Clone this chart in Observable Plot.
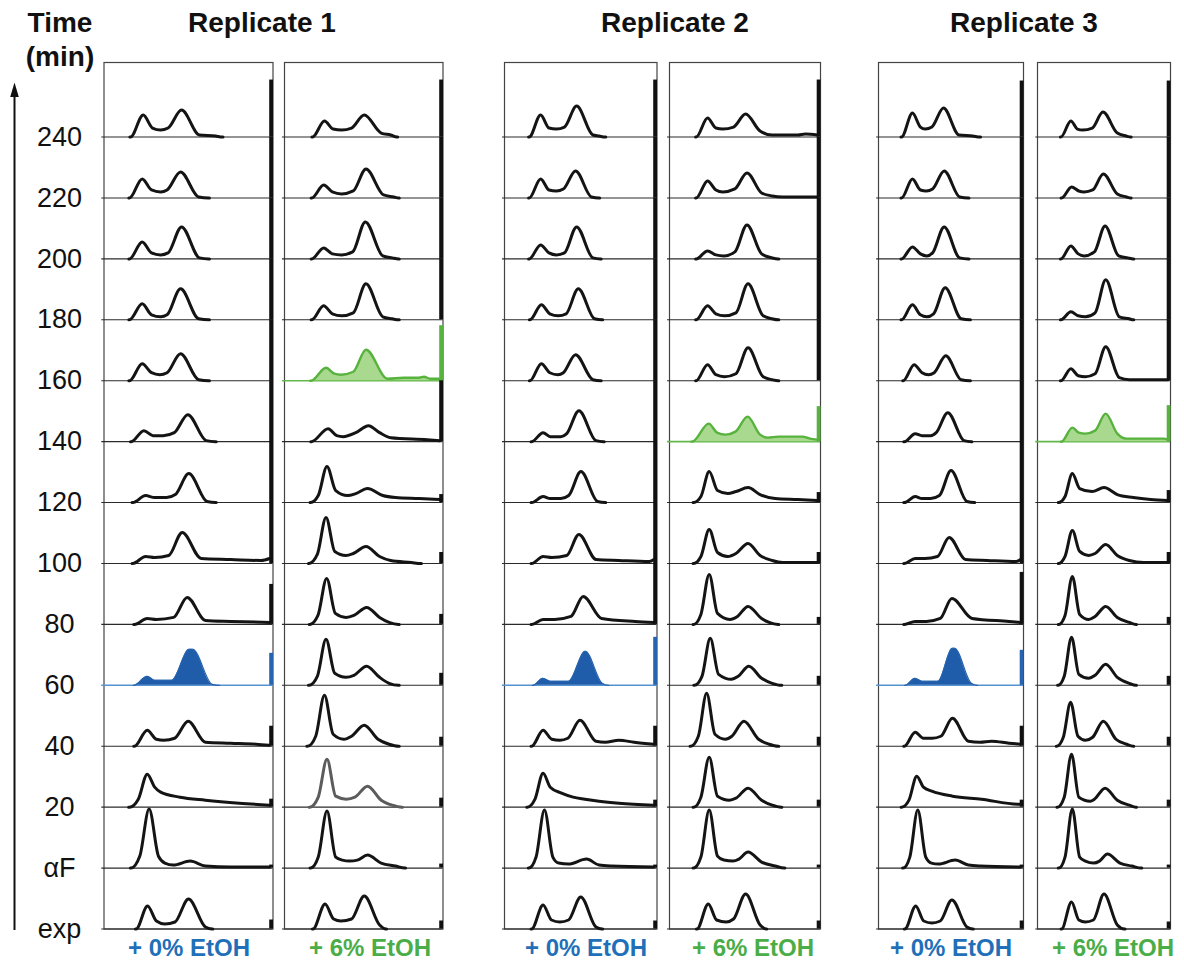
<!DOCTYPE html>
<html><head><meta charset="utf-8">
<script src="https://cdn.jsdelivr.net/npm/d3@7"></script>
<script src="https://cdn.jsdelivr.net/npm/@observablehq/plot@0.6"></script>
<style>
body{margin:0;background:#fff;}
#root{position:relative;width:1184px;height:965px;overflow:hidden;background:#fff;}
#root svg{position:absolute;overflow:visible;}
</style></head><body><div id="root"></div>
<script>
// ---------- DATA ----------
const rows = ["240","220","200","180","160","140","120","100","80","60","40","20","αF","exp"];
const replicates = ["Replicate 1","Replicate 2","Replicate 3"];
const conditions = ["+ 0% EtOH","+ 6% EtOH"];
const axisTitle = ["Time","(min)"];

// DNA-content histograms: [relative position, height], rows top (240) to bottom (exp)
const r1_0 = [
 [[.157,0],[.232,22],[.287,9],[.335,7],[.379,9],[.459,27],[.565,2],[.66,1],[.7,0]],
 [[.151,0],[.226,19],[.281,8],[.335,6],[.373,8],[.453,26],[.56,1],[.62,0]],
 [[.151,0],[.226,17],[.281,6],[.335,4],[.379,6],[.459,32],[.565,1],[.62,0]],
 [[.151,0],[.226,16],[.281,5],[.335,3],[.373,5],[.453,31],[.56,1],[.62,0]],
 [[.151,0],[.226,17],[.281,8],[.33,6],[.373,8],[.453,27],[.56,1],[.62,0]],
 [[.161,0],[.236,11],[.29,6],[.35,6],[.416,9],[.496,27],[.605,1],[.66,0]],
 [[.17,0],[.246,7],[.30,5],[.37,5],[.422,8],[.502,29],[.61,1],[.66,0]],
 [[.17,0],[.246,7],[.30,6],[.383,8],[.463,31],[.575,5],[.75,4],[.93,3],[.98,5]],
 [[.18,0],[.256,6],[.31,5],[.412,7],[.492,27],[.6,4],[.75,3],[.98,2]],
 [[.177,0],[.256,9],[.30,5],[.40,5],[.505,36],[.525,36],[.64,1],[.68,0]],
 [[.18,0],[.256,16],[.31,7],[.354,6],[.418,8],[.498,25],[.6,4],[.75,3],[.9,2],[.98,1]],
 [[.15,0],[.203,8],[.256,33],[.30,20],[.335,15],[.45,10],[.6,7],[.8,4],[.98,2]],
 [[.16,0],[.212,12],[.267,59],[.322,12],[.36,5],[.41,3],[.51,7],[.6,2],[.75,1],[.98,1]],
 [[.19,0],[.258,23],[.31,8],[.36,5],[.42,7],[.5,30],[.6,2],[.64,0]]
];
const r1_6 = [
 [[.177,0],[.252,16],[.307,8],[.36,7],[.423,9],[.503,22],[.61,4],[.67,2],[.71,0]],
 [[.172,0],[.247,13],[.302,6],[.36,4],[.434,7],[.514,29],[.625,3],[.69,1],[.72,0]],
 [[.172,0],[.247,11],[.302,5],[.36,4],[.43,7],[.51,37],[.62,3],[.68,1],[.72,0]],
 [[.172,0],[.247,14],[.302,6],[.36,4],[.434,7],[.514,36],[.62,3],[.68,1],[.72,0]],
 [[.167,0],[.262,13],[.315,7],[.356,6],[.434,9],[.514,31],[.65,2],[.75,3],[.85,3],[.88,4],[.92,2],[.98,2]],
 [[.17,0],[.275,13],[.33,6],[.37,5],[.45,9],[.53,16],[.6,9],[.67,4],[.9,2],[.98,1]],
 [[.165,0],[.213,7],[.268,36],[.323,12],[.398,7],[.45,9],[.524,14],[.62,7],[.7,5],[.85,4],[.98,3]],
 [[.155,0],[.207,9],[.262,46],[.317,12],[.388,8],[.434,10],[.514,17],[.6,7],[.67,3],[.8,1],[.86,0]],
 [[.16,0],[.211,9],[.266,46],[.321,11],[.388,7],[.438,9],[.518,17],[.6,7],[.66,2],[.72,0]],
 [[.155,0],[.207,9],[.262,46],[.317,12],[.388,8],[.438,10],[.518,19],[.6,8],[.66,2],[.72,0]],
 [[.145,0],[.197,10],[.252,51],[.307,12],[.375,7],[.423,10],[.503,21],[.59,7],[.66,2],[.72,0]],
 [[.16,0],[.213,10],[.268,48],[.323,11],[.39,8],[.444,10],[.524,21],[.61,7],[.68,2],[.74,0]],
 [[.165,0],[.213,11],[.268,57],[.323,11],[.365,8],[.41,7],[.46,8],[.524,13],[.61,5],[.7,2],[.76,0]],
 [[.18,0],[.256,25],[.31,10],[.356,8],[.423,10],[.503,33],[.6,4],[.64,0]]
];
const r2_0 = [
 [[.162,0],[.237,22],[.292,9],[.34,8],[.393,10],[.473,31],[.58,2],[.62,1],[.66,0]],
 [[.162,0],[.237,19],[.292,8],[.34,7],[.386,9],[.466,27],[.57,1],[.62,0]],
 [[.162,0],[.237,14],[.292,6],[.34,4],[.393,6],[.473,32],[.58,1],[.63,0]],
 [[.167,0],[.242,15],[.297,6],[.352,4],[.404,6],[.484,31],[.59,1],[.64,0]],
 [[.167,0],[.242,17],[.297,8],[.35,6],[.386,8],[.466,26],[.58,1],[.63,0]],
 [[.178,0],[.253,9],[.3,5],[.37,5],[.408,8],[.488,31],[.6,1],[.65,0]],
 [[.178,0],[.253,6],[.3,4],[.37,4],[.421,7],[.501,31],[.61,1],[.66,0]],
 [[.178,0],[.253,7],[.31,6],[.408,8],[.488,29],[.6,4],[.75,3],[.95,2],[.98,4]],
 [[.178,0],[.253,5],[.33,5],[.436,8],[.516,28],[.637,6],[.857,3],[.98,2]],
 [[.187,0],[.253,7],[.3,4],[.42,4],[.53,34],[.64,2],[.68,0]],
 [[.178,0],[.253,16],[.31,7],[.363,6],[.415,8],[.495,26],[.6,5],[.66,4],[.75,6],[.85,4],[.98,2]],
 [[.15,0],[.2,8],[.253,34],[.30,20],[.374,14],[.45,10],[.527,8],[.62,6],[.75,4],[.98,2]],
 [[.16,0],[.207,11],[.262,58],[.317,11],[.355,5],[.42,4],[.538,9],[.62,3],[.7,2],[.98,1]],
 [[.178,0],[.253,24],[.308,9],[.363,7],[.42,9],[.5,32],[.6,2],[.64,0]]
];
const r2_6 = [
 [[.177,0],[.252,19],[.307,9],[.353,8],[.424,10],[.504,23],[.6,6],[.68,2],[.85,2],[.9,3],[.98,2]],
 [[.177,0],[.252,17],[.307,8],[.353,6],[.433,9],[.513,25],[.61,5],[.68,2],[.75,1],[.98,1]],
 [[.177,0],[.252,8],[.307,4],[.36,3],[.433,7],[.513,34],[.61,5],[.68,1],[.72,0]],
 [[.177,0],[.252,14],[.307,6],[.364,4],[.44,7],[.52,36],[.62,4],[.68,1],[.72,0]],
 [[.177,0],[.252,16],[.307,6],[.364,4],[.44,7],[.52,33],[.62,4],[.68,1],[.72,0]],
 [[.15,0],[.26,18],[.315,9],[.37,7],[.437,10],[.517,25],[.6,7],[.65,4],[.72,5],[.88,5],[.93,3],[.98,2]],
 [[.16,0],[.208,6],[.263,31],[.318,12],[.386,9],[.44,11],[.52,15],[.6,8],[.7,4],[.85,3],[.98,2]],
 [[.16,0],[.208,7],[.263,34],[.318,11],[.386,7],[.44,10],[.52,20],[.6,8],[.68,3],[.75,1],[.98,1]],
 [[.16,0],[.208,10],[.263,50],[.318,11],[.4,5],[.45,8],[.52,18],[.61,6],[.66,2],[.72,0]],
 [[.165,0],[.215,9],[.27,47],[.325,11],[.41,6],[.455,9],[.525,19],[.61,7],[.68,2],[.74,0]],
 [[.14,0],[.191,10],[.246,53],[.301,12],[.37,7],[.413,10],[.493,25],[.59,7],[.66,2],[.72,0]],
 [[.16,0],[.208,10],[.263,50],[.318,11],[.397,7],[.44,9],[.52,19],[.61,7],[.68,2],[.74,0]],
 [[.16,0],[.208,11],[.263,58],[.318,12],[.36,8],[.42,7],[.46,9],[.52,16],[.61,6],[.7,2],[.76,0]],
 [[.182,0],[.257,25],[.312,9],[.375,7],[.424,10],[.504,35],[.6,4],[.64,0]]
];
const r3_0 = [
 [[.159,0],[.234,24],[.289,10],[.322,8],[.368,10],[.448,29],[.555,2],[.65,1],[.7,0]],
 [[.159,0],[.234,19],[.289,8],[.33,7],[.373,9],[.453,27],[.56,1],[.62,0]],
 [[.159,0],[.234,12],[.289,5],[.333,3],[.373,6],[.453,32],[.56,1],[.62,0]],
 [[.159,0],[.234,15],[.289,5],[.333,3],[.38,6],[.46,32],[.57,1],[.63,0]],
 [[.171,0],[.246,16],[.3,8],[.345,6],[.384,8],[.464,25],[.57,1],[.63,0]],
 [[.178,0],[.253,8],[.3,6],[.36,6],[.398,9],[.478,29],[.59,1],[.64,0]],
 [[.178,0],[.253,6],[.3,4],[.36,4],[.42,7],[.5,32],[.61,1],[.66,0]],
 [[.178,0],[.253,5],[.32,5],[.407,7],[.487,26],[.6,4],[.75,3],[.95,2],[.98,4]],
 [[.178,0],[.253,3],[.33,3],[.426,6],[.506,26],[.645,6],[.9,3],[.98,2]],
 [[.184,0],[.253,7],[.3,4],[.41,4],[.51,37],[.525,37],[.64,2],[.68,0]],
 [[.178,0],[.253,14],[.31,8],[.37,8],[.43,10],[.51,28],[.62,5],[.7,4],[.78,5],[.9,3],[.98,2]],
 [[.16,0],[.21,7],[.264,31],[.31,20],[.368,16],[.51,11],[.71,8],[.96,3],[.98,3]],
 [[.17,0],[.216,11],[.271,58],[.326,11],[.365,5],[.414,4],[.529,8],[.62,3],[.7,2],[.98,1]],
 [[.182,0],[.257,23],[.312,8],[.368,6],[.426,8],[.506,29],[.61,2],[.65,0]]
];
const r3_6 = [
 [[.176,0],[.251,16],[.3,8],[.34,7],[.412,9],[.492,25],[.6,4],[.667,1],[.7,0]],
 [[.181,0],[.256,11],[.31,7],[.35,6],[.415,8],[.495,24],[.6,4],[.67,1],[.7,0]],
 [[.176,0],[.251,13],[.306,5],[.35,3],[.428,7],[.508,33],[.61,3],[.68,1],[.72,0]],
 [[.176,0],[.251,8],[.306,4],[.36,3],[.433,7],[.513,40],[.615,3],[.69,1],[.72,0]],
 [[.176,0],[.251,12],[.306,5],[.36,4],[.433,7],[.513,34],[.615,3],[.69,1],[.75,1],[.98,1]],
 [[.18,0],[.262,14],[.31,9],[.36,8],[.433,11],[.513,28],[.6,8],[.667,3],[.8,3],[.95,3],[.98,2]],
 [[.16,0],[.207,6],[.262,29],[.317,14],[.41,11],[.5,15],[.6,8],[.72,5],[.85,3],[.98,2]],
 [[.16,0],[.207,7],[.262,33],[.317,12],[.385,8],[.433,10],[.513,19],[.6,8],[.69,3],[.8,1],[.98,1]],
 [[.16,0],[.207,9],[.262,48],[.317,10],[.385,5],[.433,8],[.513,18],[.6,7],[.69,2],[.74,0]],
 [[.155,0],[.201,9],[.256,48],[.311,11],[.385,7],[.433,10],[.513,21],[.6,8],[.69,2],[.74,0]],
 [[.145,0],[.194,9],[.249,44],[.304,10],[.36,6],[.415,9],[.495,25],[.59,7],[.67,2],[.72,0]],
 [[.15,0],[.201,10],[.256,53],[.311,10],[.397,6],[.428,8],[.508,19],[.6,7],[.69,2],[.74,0]],
 [[.16,0],[.207,11],[.262,59],[.317,11],[.36,7],[.423,5],[.466,7],[.526,14],[.62,5],[.71,2],[.78,0]],
 [[.181,0],[.256,27],[.311,9],[.36,7],[.42,9],[.5,35],[.6,4],[.654,0]]
];
// height of the off-scale bin at the right edge, rows 240 -> exp
const spikes_r1_0 = [57,61,61,61,61,61,61,61,40,32,20,8,3,9];
const spikes_r1_6 = [57,61,61,61,55,61,8,11,10,12,9,9,4,8];
const spikes_r2_0 = [57,61,61,61,61,61,61,61,61,48,20,7,3,8];
const spikes_r2_6 = [57,61,61,61,61,35,10,11,7,9,9,7,3,8];
const spikes_r3_0 = [56,61,61,61,61,61,61,61,52,35,20,7,3,8];
const spikes_r3_6 = [56,61,61,61,61,36,12,11,7,9,9,7,3,7];
// highlighted (filled) time point per panel
const highlightRow = ["60","160","60","140","60","140"];

// ---------- LAYOUT / STYLE ----------
const panelBox = [[103.5,272.5],[283.5,442],[503.5,656],[669,820],[878,1023],[1037,1170]];
const TOP = 62, BASE = 928.5, STEP = 60.92, YMAX = BASE - TOP;
const FONT = "'Liberation Sans', Arial, Helvetica, sans-serif";
const COL = {
  blue: {fill:"#1f5ca9", stroke:"#2763ae", base:"#5492d2", sw:1.2},
  green:{fill:"#a8d98e", stroke:"#57b23e", base:"#62b848", sw:2.4}
};
const labelBlue = "#1f70b8", labelGreen = "#4aad48";
const panels = [
  {curves:r1_0, spikes:spikes_r1_0},{curves:r1_6, spikes:spikes_r1_6},
  {curves:r2_0, spikes:spikes_r2_0},{curves:r2_6, spikes:spikes_r2_6},
  {curves:r3_0, spikes:spikes_r3_0},{curves:r3_6, spikes:spikes_r3_6}
];
const off = i => (rows.length - 1 - i) * STEP;

function prep(pts, i){
  const a = pts.map(([x,h]) => ({row: rows[i], x, h, base: off(i), y: off(i) + h}));
  if (a[0].h === 0) a.unshift({...a[0], x: a[0].x - 0.004});
  const l = a[a.length-1];
  if (l.h === 0) a.push({...l, x: l.x + 0.004});
  return a;
}

const arrowHead = {draw(ctx){ ctx.moveTo(0,-7.5); ctx.lineTo(4.3,7); ctx.lineTo(-4.3,7); ctx.closePath(); }};

const root = document.getElementById("root");

panels.forEach((p, pi) => {
  const [L, R] = panelBox[pi];
  const W = R - L;
  const mL = pi === 0 ? L : 4, mR = 2, mT = 1, mB = 1;
  const hi = highlightRow[pi];
  const hc = pi % 2 === 0 ? COL.blue : COL.green;
  const rowRecs = rows.map((r, i) => ({row: r, off: off(i), top: off(i) + p.spikes[i]}));
  const normal = [], dim = [], hiPts = [];
  p.curves.forEach((c, i) => {
    const a = prep(c, i);
    if (rows[i] === hi) hiPts.push(...a);
    else if (pi === 1 && rows[i] === "20") dim.push(...a);
    else normal.push(...a);
  });
  const lineOpts = {x:"x", y:"y", z:"row", curve:"monotone-x", strokeWidth:3, strokeLinejoin:"round", strokeLinecap:"round"};
  const marks = [
    Plot.frame({stroke:"#444", strokeWidth:1.2}),
    Plot.ruleY(rowRecs.filter(d => d.row !== hi), {y:"off", x1:-0.013, x2:1, stroke:"#2a2a2a", strokeWidth:1.1}),
    Plot.ruleY(rowRecs.filter(d => d.row === hi), {y:"off", x1:-0.013, x2:1, stroke:hc.base, strokeWidth:1.6}),
    Plot.areaY(hiPts, {x:"x", y1:"base", y2:"y", curve:"monotone-x", fill:hc.fill}),
    Plot.line(hiPts, {x:"x", y:"y", curve:"monotone-x", stroke:hc.stroke, strokeWidth:hc.sw, strokeLinejoin:"round"}),
    Plot.line(normal, {...lineOpts, stroke:"#141414"}),
    Plot.line(dim, {...lineOpts, stroke:"#5c5c5c"}),
    Plot.ruleX(rowRecs.filter(d => d.row !== hi), {x: () => 1, y1:"off", y2:"top", dx:-1.9, stroke:"#111", strokeWidth:3.8}),
    Plot.ruleX(rowRecs.filter(d => d.row === hi), {x: () => 1, y1:"off", y2:"top", dx:-1.9, stroke:hc.stroke, strokeWidth:3.8})
  ];
  if (pi === 0) {
    marks.push(
      Plot.text(rowRecs, {x: () => 0, y:"off", text:"row", dx: 59 - L, textAnchor:"middle", fontSize:27, fill:"#111"}),
      Plot.ruleX([0], {x: () => 0, y1: () => -1.5, y2: () => YMAX - 34, dx: 14 - L, stroke:"#111", strokeWidth:2}),
      Plot.dot([0], {x: () => 0, y: () => YMAX - 27.5, dx: 14 - L, symbol: arrowHead, r:5, fill:"#111", stroke:"none"})
    );
  }
  const svg = Plot.plot({
    width: W + mL + mR, height: YMAX + mT + mB,
    marginLeft: mL, marginRight: mR, marginTop: mT, marginBottom: mB,
    x: {domain:[0,1], axis:null},
    y: {domain:[0,YMAX], axis:null},
    style: {fontFamily: FONT, background:"transparent", overflow:"visible"},
    marks
  });
  svg.style.left = (L - mL) + "px";
  svg.style.top = (TOP - mT) + "px";
  root.appendChild(svg);
});

// titles and condition labels
const over = d3.select(root).append("svg").attr("width",1184).attr("height",965)
  .style("left","0px").style("top","0px").style("pointer-events","none")
  .attr("font-family", FONT).attr("font-weight","bold").attr("text-anchor","middle");
over.append("text").attr("x",60).attr("y",32).attr("font-size",28).attr("fill","#111").text(axisTitle[0]);
over.append("text").attr("x",60).attr("y",66).attr("font-size",28).attr("fill","#111").text(axisTitle[1]);
const repX = [262, 675, 1024];
replicates.forEach((r, i) => over.append("text").attr("x", repX[i]).attr("y", 32).attr("font-size", 28).attr("fill","#111").text(r));
const condX = [189, 370, 586, 753, 951, 1113];
condX.forEach((x, i) => over.append("text").attr("x", x).attr("y", 956).attr("font-size", 24)
  .attr("fill", i % 2 === 0 ? labelBlue : labelGreen).text(conditions[i % 2]));
</script>
</body></html>
